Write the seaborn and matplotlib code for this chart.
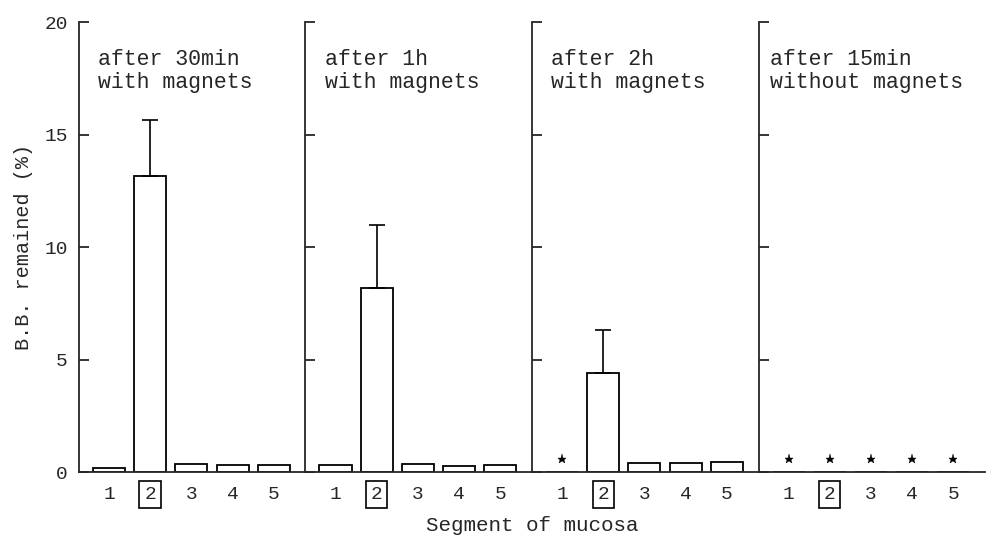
import numpy as np
import pandas as pd
import matplotlib
matplotlib.use("Agg")
import matplotlib.pyplot as plt
import seaborn as sns

# data (nan = not detected, drawn as a star)
segments = ["1", "2", "3", "4", "5"]
titles = ["after 30min\nwith magnets", "after 1h\nwith magnets",
          "after 2h\nwith magnets", "after 15min\nwithout magnets"]
vals_30min = [0.2, 13.15, 0.34, 0.30, 0.30]
vals_1h = [0.31, 8.2, 0.36, 0.27, 0.31]
vals_2h = [np.nan, 4.4, 0.40, 0.40, 0.44]
vals_15min_nomag = [np.nan, np.nan, np.nan, np.nan, np.nan]
err_30min = [0, 2.5, 0, 0, 0]
err_1h = [0, 2.8, 0, 0, 0]
err_2h = [0, 1.9, 0, 0, 0]
err_15min_nomag = [0, 0, 0, 0, 0]

panels = [(vals_30min, err_30min), (vals_1h, err_1h),
          (vals_2h, err_2h), (vals_15min_nomag, err_15min_nomag)]
title_x = [0.085, 0.085, 0.085, 0.05]

sns.set_style("ticks")
plt.rcParams["font.family"] = ["Liberation Mono", "DejaVu Sans Mono"]

fig, axes = plt.subplots(1, 4, sharey=True, figsize=(9.87, 5.37), dpi=100)
fig.subplots_adjust(left=0.080, right=0.998, bottom=0.121, top=0.959, wspace=0)

for i, ax in enumerate(axes):
    vals, errs = panels[i]
    df = pd.DataFrame({"seg": segments, "val": np.nan_to_num(np.array(vals, dtype=float))})
    sns.barplot(data=df, x="seg", y="val", order=segments, ax=ax,
                color="white", edgecolor="black", linewidth=1.3, width=0.78,
                errorbar=None)
    pos = np.arange(len(segments))
    errs = np.array(errs, dtype=float)
    has = errs > 0
    if has.any():
        ax.errorbar(pos[has], df["val"].values[has],
                    yerr=[np.zeros(has.sum()), errs[has]],
                    fmt="none", ecolor="black", elinewidth=1.2, capsize=6, capthick=1.2)
    # stars mark "not detected"
    nd = np.isnan(np.array(vals, dtype=float))
    if nd.any():
        ax.plot(pos[nd], np.full(nd.sum(), 0.6), ls="none", marker="*",
                ms=6.5, mfc="black", mec="black", mew=0.3)
    ax.set_xlim(-0.73, 4.77)
    ax.set_ylim(0, 20)
    ax.set_yticks([0, 5, 10, 15, 20])
    ax.set_xlabel("")
    ax.set_ylabel("")
    ax.text(title_x[i], 0.94, titles[i], transform=ax.transAxes,
            ha="left", va="top", fontsize=15.5, linespacing=1.15)
    sns.despine(ax=ax, top=True, right=True)
    for s in ["left", "bottom"]:
        ax.spines[s].set_linewidth(1.3)
    ax.tick_params(axis="y", direction="in", length=7, width=1.3, labelsize=14, pad=8)
    ax.tick_params(axis="x", length=0, labelsize=14, pad=10)
    for lab in ax.get_xticklabels():
        if lab.get_text() == "2":
            lab.set_bbox(dict(boxstyle="square,pad=0.25", fc="none", ec="black", lw=1.2))

axes[0].set_ylabel("B.B. remained (%)", fontsize=14.5, labelpad=8)
fig.text(0.539, 0.022, "Segment of mucosa", ha="center", va="center", fontsize=15)

fig.savefig("out.png", dpi=100, facecolor="white")
